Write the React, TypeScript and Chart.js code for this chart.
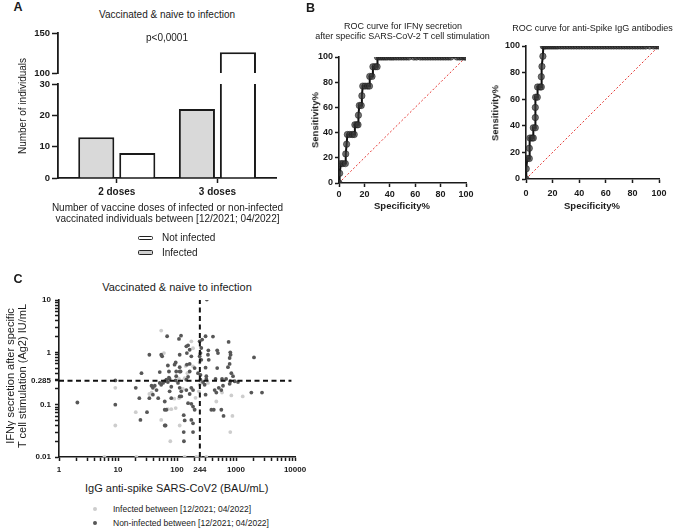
import React, { useEffect, useRef } from 'react';
import { Chart, registerables } from 'chart.js';
Chart.register(...registerables);

const FONT = "'Liberation Sans', Arial, Helvetica, sans-serif";

// ---------- Panel A data ----------
const doseCategories = ['2 doses', '3 doses'];
const infectedCounts = [13, 22];
const notInfectedCounts = [8, 126];
const lowerRange = [0, 30];
const upperRange = [100, 150];
const lowerTicks = [0, 10, 20, 30];
const upperTicks = [100, 150];

// ---------- Panel B data (Specificity%, Sensitivity%) ----------
const rocIFN: [number, number][] = [
  [0, 0], [0.5, 7.7], [1.5, 15.4], [3, 15.4], [5, 15.4], [5.3, 23.1], [6, 30.8], [6.6, 38.5],
  [8.5, 38.5], [10.5, 38.5], [12, 38.5], [12.5, 46.2], [14, 46.2], [15, 46.2], [15.3, 53.8],
  [16, 61.5], [17.5, 61.5], [18, 69.2], [18.7, 76.9], [20.5, 76.9], [22.5, 76.9], [24, 76.9],
  [24.2, 84.6], [26, 84.6], [26.7, 92.3], [28.5, 92.3], [30, 92.3], [30.3, 100], [32, 100],
  [33.5, 100], [35, 100], [36.5, 100], [38, 100], [40, 100], [41.5, 100], [43, 100], [45, 100],
  [47, 100], [49, 100], [51, 100], [53, 100], [55, 100], [59, 100], [61, 100], [64, 100],
  [66, 100], [68, 100], [70, 100], [72, 100], [74, 100], [76, 100], [78, 100], [80, 100],
  [82, 100], [84, 100], [86, 100], [88, 100], [93, 100], [95, 100], [97, 100], [99, 100], [100, 100],
];
const rocIgG: [number, number][] = [
  [0, 0], [0.2, 7.7], [1, 15.4], [2.5, 15.4], [2.5, 23.1], [3, 30.8], [4.5, 30.8], [5.5, 30.8],
  [5.5, 38.5], [7, 38.5], [7, 46.2], [7, 53.8], [7.2, 61.5], [8.5, 61.5], [8.7, 69.2], [10.5, 69.2],
  [11.5, 69.2], [11.5, 76.9], [12, 84.6], [12.7, 92.3], [13, 100], [14, 100], [15, 100], [16.5, 100],
  [18, 100], [19.5, 100], [21, 100], [22.5, 100], [24, 100], [26, 100], [28, 100], [30, 100],
  [32, 100], [34, 100], [36, 100], [38, 100], [40, 100], [42, 100], [44, 100], [46, 100], [48, 100],
  [50, 100], [52, 100], [54, 100], [56, 100], [58, 100], [60, 100], [62, 100], [64, 100], [66, 100],
  [68, 100], [70, 100], [72, 100], [74, 100], [76, 100], [78, 100], [80, 100], [82, 100], [84, 100],
  [86, 100], [88, 100], [90, 100], [93, 100], [96, 100], [98, 100], [100, 100],
];
const rocDiagonal: [number, number][] = [[0, 0], [100, 100]];
const rocTicks = [0, 20, 40, 60, 80, 100];

// ---------- Panel C data (IgG BAU/mL, IFNγ IU/mL) ----------
const nonInfectedPts: [number, number][] = [
  [2.05, 0.11], [9, 0.29], [9, 0.1], [20, 0.21], [23, 0.133], [24, 0.051], [25, 0.4], [31, 0.072],
  [34, 0.9], [34, 0.133], [37, 0.23], [39, 0.21], [42, 0.23], [45, 0.19], [51, 0.42], [51, 0.26],
  [54, 0.24], [54, 0.9], [56, 0.84], [58, 0.26], [62, 0.28], [66, 0.3], [70, 0.27], [73, 0.33],
  [70, 0.56], [73, 0.43], [75, 0.31], [80, 0.22], [68, 2.03], [39, 0.155], [48, 0.133], [62, 0.115],
  [75, 0.18], [80, 0.133], [62, 0.08], [66, 0.08], [62, 0.04], [64, 0.04], [95, 0.64], [91, 0.58],
  [111, 0.52], [111, 0.9], [108, 1.8], [117, 2.08], [97, 0.43], [111, 0.43], [115, 0.43], [97, 0.35],
  [111, 0.21], [118, 0.18], [111, 0.144], [118, 0.144], [95, 0.29], [104, 0.26], [144, 1.3],
  [154, 1.36], [164, 1.12], [147, 0.97], [175, 0.84], [147, 0.58], [164, 0.6], [199, 0.5], [164, 0.43],
  [144, 0.3], [154, 0.34], [144, 0.19], [175, 0.21], [164, 0.16], [187, 0.19], [154, 0.107],
  [175, 0.104], [187, 0.092], [199, 0.08], [130, 0.063], [135, 0.05], [175, 0.051], [187, 0.044],
  [130, 0.03], [187, 0.03], [131, 0.02], [242, 1.62], [267, 1.75], [305, 2.03], [407, 2.0],
  [320, 10.2], [258, 1.21], [250, 0.97], [242, 0.84], [258, 0.72], [340, 1.09], [335, 0.9],
  [345, 0.72], [480, 1.09], [495, 0.97], [750, 1.58], [800, 1.0], [810, 0.9], [780, 0.78],
  [305, 0.51], [227, 0.4], [250, 0.37], [314, 0.35], [480, 0.5], [731, 0.52], [780, 0.6], [834, 0.4],
  [890, 0.35], [950, 0.28], [1081, 0.27], [250, 0.3], [314, 0.31], [450, 0.31], [580, 0.31],
  [680, 0.31], [781, 0.25], [800, 0.28], [305, 0.155], [435, 0.19], [464, 0.17], [510, 0.21],
  [564, 0.19], [602, 0.23], [382, 0.08], [420, 0.08], [564, 0.08], [615, 0.061], [1820, 0.17],
  [2760, 0.17], [2018, 0.8], [276, 0.27], [294, 0.24],
];
const infectedPts: [number, number][] = [
  [54, 2.6], [60, 0.97], [175, 1.62], [187, 1.2], [187, 0.54], [108, 0.31], [135, 0.32], [34, 0.16],
  [9, 0.21], [9, 0.04], [20, 0.072], [37, 0.17], [126, 0.2], [108, 0.133], [70, 0.082], [80, 0.082],
  [95, 0.086], [54, 0.051], [77, 0.02], [111, 0.04], [242, 0.24], [235, 0.18], [258, 0.26],
  [335, 0.26], [464, 0.115], [580, 0.17], [834, 0.15], [870, 0.061], [800, 0.03], [1300, 0.144],
  [206, 0.135], [140, 0.55], [242, 0.64], [5.9, 0.01], [20.5, 0.01], [135, 0.01], [213, 0.01],
  [242, 0.01], [314, 0.01], [90, 0.13], [150, 0.4], [242, 0.9],
];
const igGCut = 244;
const ifnCut = 0.285;
const xRange = [1, 10000];
const yRange = [0.01, 10];
const hLineEnd = 8700;
const xLabeled = [1, 10, 100, 244, 1000, 10000];
const yLabeled = [0.01, 0.1, 0.285, 1, 10];

// ---------- helpers ----------
type Area = { l: number; t: number; r: number; b: number };
type Pad = { l: number; t: number; r: number; b: number };
type Box = { area: Area; yW: number; xH: number; pad: Pad };

const fixSize = (kind: 'x' | 'y', size: number) => (s: any) => {
  if (kind === 'y') s.width = size;
  else s.height = size;
  s.paddingLeft = 0;
  s.paddingRight = 0;
  s.paddingTop = 0;
  s.paddingBottom = 0;
};
const setTicks = (vals: number[]) => (s: any) => {
  s.ticks = vals.map((v) => ({ value: v }));
};
const logTicks = (lo: number, hi: number, extra: number[]) => {
  const out: number[] = [];
  for (let d = lo; d < hi * 0.999; d *= 10) {
    for (let m = 1; m < 10; m++) out.push(+(d * m).toPrecision(6));
  }
  out.push(hi);
  return out.concat(extra).sort((a, b) => a - b);
};
const isIn = (v: number, arr: number[]) => arr.some((a) => Math.abs(v - a) / a < 1e-6);
const pts = (arr: [number, number][]) => arr.map(([x, y]) => ({ x, y }));

function ChartBox({ box, build }: { box: Box; build: () => any }) {
  const ref = useRef<HTMLCanvasElement>(null);
  const { area, yW, xH, pad } = box;
  const left = area.l - yW - pad.l;
  const top = area.t - pad.t;
  const width = area.r - area.l + yW + pad.l + pad.r;
  const height = area.b - area.t + xH + pad.t + pad.b;
  useEffect(() => {
    const cfg = build();
    cfg.options = {
      ...cfg.options,
      responsive: false,
      animation: false,
      devicePixelRatio: 1,
      events: [],
      layout: { autoPadding: false, padding: { left: pad.l, right: pad.r, top: pad.t, bottom: pad.b } },
      plugins: { legend: { display: false }, tooltip: { enabled: false }, title: { display: false } },
    };
    const chart = new Chart(ref.current as HTMLCanvasElement, cfg);
    return () => chart.destroy();
  }, []);
  return (
    <canvas
      ref={ref}
      width={width}
      height={height}
      style={{ position: 'absolute', left, top, width, height }}
    />
  );
}

const AX = '#1a1a1a';
const axisGrid = (len: number) => ({
  drawOnChartArea: false,
  drawTicks: true,
  offset: false,
  tickLength: len,
  tickColor: AX,
  tickWidth: 1.5,
  color: AX,
});

// ---------- Panel A ----------
const boxALow: Box = { area: { l: 58, t: 84, r: 276, b: 178 }, yW: 40, xH: 30, pad: { l: 0, t: 6, r: 8, b: 0 } };
const boxAHigh: Box = { area: { l: 58, t: 33, r: 276, b: 73 }, yW: 40, xH: 0, pad: { l: 0, t: 6, r: 8, b: 6 } };

const barDatasets = (range: number[]) => [
  {
    label: 'Infected',
    data: doseCategories.map((_, i) => ({ x: i + 1, y: infectedCounts[i] > range[0] ? infectedCounts[i] : null })),
    backgroundColor: '#d9d9d9',
    borderColor: AX,
    borderWidth: 2,
    categoryPercentage: 0.815,
    barPercentage: 0.88,
    clip: 0,
  },
  {
    label: 'Not infected',
    data: doseCategories.map((_, i) => ({ x: i + 1, y: notInfectedCounts[i] > range[0] ? notInfectedCounts[i] : null })),
    backgroundColor: '#ffffff',
    borderColor: AX,
    borderWidth: 2,
    categoryPercentage: 0.815,
    barPercentage: 0.88,
    clip: 0,
  },
];

const buildA = (range: number[], ticks: number[], box: Box, showX: boolean) => () => ({
  type: 'bar',
  data: { datasets: barDatasets(range) },
  options: {
    scales: {
      x: {
        type: 'linear',
        offset: false,
        bounds: 'data',
        min: 0.416,
        max: 2.582,
        afterBuildTicks: setTicks([1, 2]),
        afterFit: fixSize('x', box.xH),
        grid: showX ? axisGrid(5) : { display: false, offset: false },
        border: { display: showX, color: AX, width: 1.8 },
        ticks: {
          display: showX,
          color: AX,
          padding: 3,
          font: { family: FONT, size: 10, weight: 'bold' },
          callback: (v: number) => doseCategories[Math.round(v) - 1] ?? '',
        },
      },
      y: {
        type: 'linear',
        min: range[0],
        max: range[1],
        afterBuildTicks: setTicks(ticks),
        afterFit: fixSize('y', box.yW),
        grid: axisGrid(6),
        border: { color: AX, width: 1.8 },
        ticks: { color: AX, padding: 2, font: { family: FONT, size: 9.5, weight: 'bold' } },
      },
    },
  },
});

// ---------- Panel B ----------
const boxBL: Box = { area: { l: 339, t: 57, r: 466, b: 183 }, yW: 32, xH: 20, pad: { l: 0, t: 6, r: 10, b: 0 } };
const boxBR: Box = { area: { l: 526, t: 46, r: 659, b: 179 }, yW: 32, xH: 22, pad: { l: 0, t: 6, r: 12, b: 0 } };

const buildROC = (curve: [number, number][], box: Box, xPad: number) => () => ({
  type: 'scatter',
  data: {
    datasets: [
      {
        data: pts(curve),
        showLine: true,
        borderColor: '#111111',
        borderWidth: 2,
        pointRadius: 3.2,
        pointBackgroundColor: 'rgba(55,55,55,0.7)',
        pointBorderColor: 'rgba(20,20,20,0.6)',
        pointBorderWidth: 0.8,
      },
      {
        data: pts(rocDiagonal),
        showLine: true,
        borderColor: '#e53935',
        borderWidth: 1,
        borderDash: [2, 2],
        pointRadius: 0,
      },
    ],
  },
  options: {
    scales: {
      x: {
        type: 'linear',
        min: 0,
        max: 100,
        afterBuildTicks: setTicks(rocTicks),
        afterFit: fixSize('x', box.xH),
        grid: axisGrid(4),
        border: { color: AX, width: 1.6 },
        ticks: { color: AX, padding: xPad, font: { family: FONT, size: 9, weight: 'bold' } },
      },
      y: {
        type: 'linear',
        min: 0,
        max: 100,
        afterBuildTicks: setTicks(rocTicks),
        afterFit: fixSize('y', box.yW),
        grid: axisGrid(4),
        border: { color: AX, width: 1.6 },
        ticks: { color: AX, padding: 2, font: { family: FONT, size: 9, weight: 'bold' } },
      },
    },
  },
});

// ---------- Panel C ----------
const boxC: Box = { area: { l: 59, t: 300, r: 295, b: 457 }, yW: 45, xH: 22, pad: { l: 0, t: 6, r: 14, b: 0 } };

const buildC = () => ({
  type: 'scatter',
  data: {
    datasets: [
      {
        data: pts([[igGCut, yRange[0]], [igGCut, yRange[1]]]),
        showLine: true,
        borderColor: '#111',
        borderWidth: 2,
        borderDash: [5, 3.5],
        pointRadius: 0,
      },
      {
        data: pts([[xRange[0], ifnCut], [hLineEnd, ifnCut]]),
        showLine: true,
        borderColor: '#111',
        borderWidth: 2,
        borderDash: [5, 3.5],
        pointRadius: 0,
      },
      {
        data: pts(nonInfectedPts),
        pointRadius: 1.9,
        pointBorderWidth: 0,
        pointBackgroundColor: '#575757',
      },
      {
        data: pts(infectedPts),
        pointRadius: 1.9,
        pointBorderWidth: 0,
        pointBackgroundColor: '#cdcdcd',
      },
    ],
  },
  options: {
    scales: {
      x: {
        type: 'logarithmic',
        min: xRange[0],
        max: xRange[1],
        afterBuildTicks: setTicks(logTicks(xRange[0], xRange[1], [igGCut])),
        afterFit: fixSize('x', boxC.xH),
        grid: axisGrid(4),
        border: { color: AX, width: 1.6 },
        ticks: {
          autoSkip: false,
          maxRotation: 0,
          color: AX,
          padding: 4,
          font: { family: FONT, size: 8, weight: 'bold' },
          callback: (v: number) => (isIn(v, xLabeled) ? String(v) : ''),
        },
      },
      y: {
        type: 'logarithmic',
        min: yRange[0],
        max: yRange[1],
        afterBuildTicks: setTicks(logTicks(yRange[0], yRange[1], [ifnCut])),
        afterFit: fixSize('y', boxC.yW),
        grid: axisGrid(4),
        border: { color: AX, width: 1.6 },
        ticks: {
          autoSkip: false,
          color: AX,
          padding: 4,
          font: { family: FONT, size: 8, weight: 'bold' },
          callback: (v: number) => (isIn(v, yLabeled) ? String(v) : ''),
        },
      },
    },
  },
});

// ---------- text ----------
type T = { t: string; x: number; y: number; s: number; b?: boolean; rot?: boolean; left?: boolean };
const texts: T[] = [
  { t: 'A', x: 18, y: 7, s: 12.5, b: true },
  { t: 'Vaccinated & naive to infection', x: 167, y: 15, s: 10 },
  { t: 'p<0,0001', x: 167, y: 38, s: 10 },
  { t: 'Number of individuals', x: 23, y: 106, s: 10, rot: true },
  { t: 'Number of vaccine doses of infected or non-infected', x: 167.5, y: 207.5, s: 10 },
  { t: 'vaccinated individuals between [12/2021; 04/2022]', x: 167.5, y: 219.3, s: 10 },
  { t: 'Not infected', x: 162, y: 238.3, s: 10, left: true },
  { t: 'Infected', x: 162, y: 252.7, s: 10, left: true },
  { t: 'B', x: 310.5, y: 8.3, s: 12.5, b: true },
  { t: 'ROC curve for IFNγ secretion', x: 403, y: 26, s: 9 },
  { t: 'after specific SARS-CoV-2 T cell stimulation', x: 402.5, y: 36, s: 9 },
  { t: 'Sensitivity%', x: 315, y: 120, s: 9.5, b: true, rot: true },
  { t: 'Specificity%', x: 402, y: 206, s: 9.5, b: true },
  { t: 'ROC curve for anti-Spike IgG antibodies', x: 592.5, y: 27.7, s: 9 },
  { t: 'Sensitivity%', x: 495, y: 112.5, s: 9.5, b: true, rot: true },
  { t: 'Specificity%', x: 592, y: 206, s: 9.5, b: true },
  { t: 'C', x: 18, y: 278.7, s: 12.5, b: true },
  { t: 'Vaccinated & naive to infection', x: 177, y: 286.7, s: 11 },
  { t: 'IFNγ secretion after specific', x: 10, y: 376.3, s: 11, rot: true },
  { t: 'T cell stimulation (Ag2) IU/mL', x: 21.7, y: 376.3, s: 11, rot: true },
  { t: 'IgG anti-spike SARS-CoV2 (BAU/mL)', x: 176.7, y: 487.7, s: 11 },
  { t: 'Infected between [12/2021; 04/2022]', x: 113, y: 509, s: 8.5, left: true },
  { t: 'Non-infected between [12/2021; 04/2022]', x: 113, y: 523.3, s: 8.5, left: true },
];

function Txt({ d }: { d: T }) {
  const tr = d.left
    ? 'translate(0,-50%)'
    : d.rot
    ? 'translate(-50%,-50%) rotate(-90deg)'
    : 'translate(-50%,-50%)';
  return (
    <div
      style={{
        position: 'absolute',
        left: d.x,
        top: d.y,
        transform: tr,
        whiteSpace: 'nowrap',
        fontFamily: FONT,
        fontSize: d.s,
        fontWeight: d.b ? 700 : 400,
        lineHeight: 1,
        color: '#1a1a1a',
      }}
    >
      {d.t}
    </div>
  );
}

export default function App() {
  return (
    <div
      style={{
        position: 'fixed',
        left: 0,
        top: 0,
        width: 676,
        height: 529,
        background: '#ffffff',
        overflow: 'hidden',
      }}
    >
      <ChartBox box={boxAHigh} build={buildA(upperRange, upperTicks, boxAHigh, false)} />
      <ChartBox box={boxALow} build={buildA(lowerRange, lowerTicks, boxALow, true)} />
      <ChartBox box={boxBL} build={buildROC(rocIFN, boxBL, 2)} />
      <ChartBox box={boxBR} build={buildROC(rocIgG, boxBR, 5)} />
      <ChartBox box={boxC} build={buildC} />
      {texts.map((d, i) => (
        <Txt key={i} d={d} />
      ))}
      <div style={{ position: 'absolute', left: 138, top: 235.8, width: 12.5, height: 2.5, border: '1.5px solid #222', borderRadius: 1.5, background: '#fff' }} />
      <div style={{ position: 'absolute', left: 138, top: 250.2, width: 12.5, height: 2.5, border: '1.5px solid #222', borderRadius: 1.5, background: '#cfcfcf' }} />
      <div style={{ position: 'absolute', left: 93.1, top: 507.1, width: 3.8, height: 3.8, borderRadius: '50%', background: '#cdcdcd' }} />
      <div style={{ position: 'absolute', left: 93.1, top: 521.4, width: 3.8, height: 3.8, borderRadius: '50%', background: '#575757' }} />
    </div>
  );
}
